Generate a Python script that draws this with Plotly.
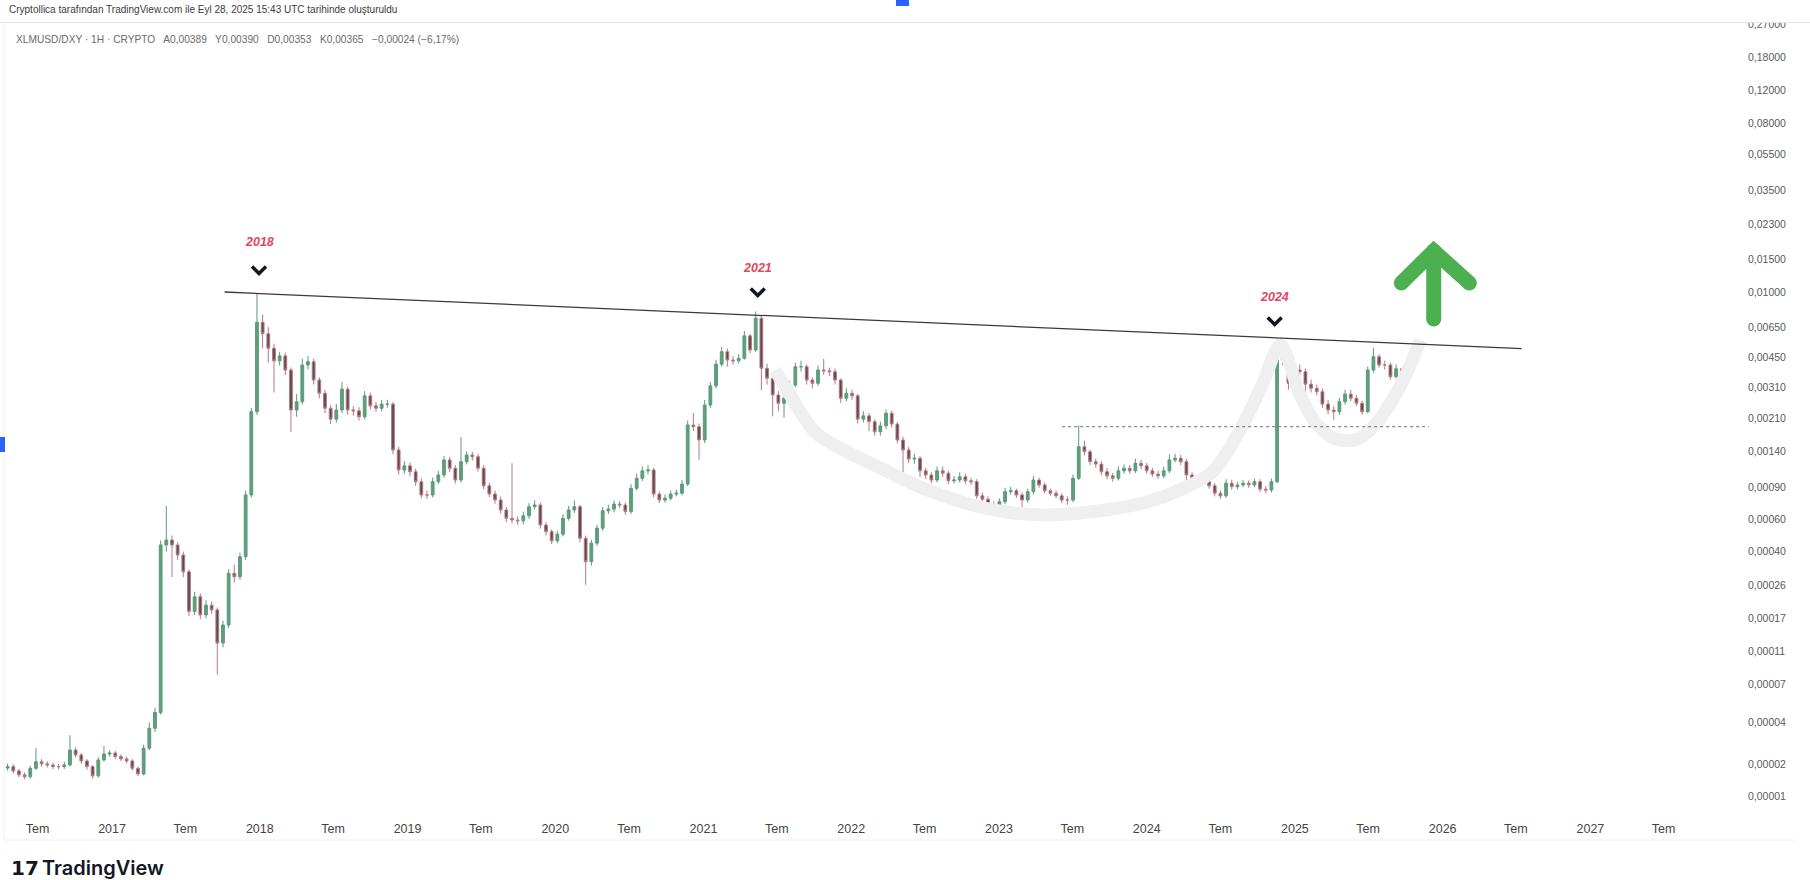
import math
import pandas as pd
import plotly.graph_objects as go

# ---------------------------------------------------------------- data
# XLMUSD/DXY, two-week candles
CANDLE_START = "2016-04-18"
CANDLE_FREQ = "14D"
FIRST_OPEN = 0.0000185

closes = [
    0.0000190, 0.0000175, 0.0000162, 0.0000156, 0.0000184, 0.0000208, 0.0000200, 0.0000196, 0.0000190, 0.0000190,
    0.0000196, 0.0000256, 0.0000235, 0.0000211, 0.0000190, 0.0000159, 0.0000215, 0.0000239, 0.0000243, 0.0000228,
    0.0000219, 0.0000211, 0.0000184, 0.0000165, 0.0000264, 0.0000365, 0.0000465, 0.000435, 0.000463, 0.000435,
    0.000383, 0.000310, 0.000186, 0.000225, 0.000178, 0.000202, 0.000190, 0.000123, 0.000156, 0.000304,
    0.000291, 0.000375, 0.000814, 0.002288, 0.006900, 0.006000, 0.005010, 0.004289, 0.004562, 0.003831,
    0.002337, 0.002589, 0.004075, 0.004244, 0.003386, 0.002874, 0.002388, 0.002087, 0.002337, 0.003024,
    0.002337, 0.002312, 0.002151, 0.002783, 0.002460, 0.002388, 0.002513, 0.002513, 0.001424, 0.001111,
    0.001169, 0.001087, 0.000960, 0.000814, 0.000814, 0.000960, 0.001044, 0.001258, 0.001135, 0.000981,
    0.001231, 0.001338, 0.001310, 0.001135, 0.000912, 0.000823, 0.000764, 0.000675, 0.000608, 0.000595,
    0.000589, 0.000627, 0.000703, 0.000718, 0.000559, 0.000514, 0.000458, 0.000498, 0.000608, 0.000675,
    0.000703, 0.000473, 0.000352, 0.000445, 0.000537, 0.000668, 0.000682, 0.000726, 0.000718, 0.000661,
    0.000885, 0.001002, 0.001099, 0.001111, 0.000823, 0.000764, 0.000781, 0.000823, 0.000832, 0.000932,
    0.001941, 0.001900, 0.001612, 0.002486, 0.003149, 0.004119, 0.004801, 0.004335, 0.004289, 0.004429,
    0.005839, 0.004904, 0.007256, 0.003914, 0.003459, 0.002813, 0.002540, 0.002702, 0.003183, 0.003989,
    0.003989, 0.003386, 0.003252, 0.003831, 0.003790, 0.003750, 0.003386, 0.002702, 0.002874, 0.002783,
    0.002087, 0.002174, 0.002021, 0.001785, 0.001920, 0.002245, 0.001962, 0.001612, 0.001424, 0.001272,
    0.001285, 0.001099, 0.001044, 0.000981, 0.001099, 0.001067, 0.000971, 0.000981, 0.001022, 0.000971,
    0.000960, 0.000805, 0.000772, 0.000726, 0.000682, 0.000748, 0.000848, 0.000857, 0.000814, 0.000764,
    0.000848, 0.000981, 0.000922, 0.000857, 0.000832, 0.000805, 0.000764, 0.000764, 0.001002, 0.001483,
    0.001394, 0.001231, 0.001195, 0.001087, 0.001033, 0.001002, 0.001099, 0.001135, 0.001099, 0.001208,
    0.001169, 0.001099, 0.001055, 0.001033, 0.001099, 0.001258, 0.001285, 0.001231, 0.001044, 0.001002,
    0.000971, 0.000971, 0.000912, 0.000832, 0.000805, 0.000942, 0.000902, 0.000922, 0.000942, 0.000922,
    0.000960, 0.000875, 0.000866, 0.000960, 0.004801, 0.004335, 0.003252, 0.003831, 0.003750, 0.003217,
    0.003057, 0.002929, 0.002513, 0.002337, 0.002288, 0.002589, 0.002843, 0.002702, 0.002540, 0.002288,
    0.003831, 0.004514, 0.004075, 0.004075, 0.003526, 0.003890, 0.003650,
]

highs = [
    0.0000201, 0.0000199, 0.0000182, 0.0000170, 0.0000193, 0.0000264, 0.0000218, 0.0000210, 0.0000205, 0.0000200,
    0.0000208, 0.0000327, 0.0000268, 0.0000243, 0.0000218, 0.0000195, 0.0000226, 0.0000275, 0.0000256, 0.0000252,
    0.0000238, 0.0000228, 0.0000218, 0.0000190, 0.0000280, 0.0000400, 0.0000500, 0.000460, 0.000710, 0.000490,
    0.000450, 0.000400, 0.000320, 0.000240, 0.000235, 0.000215, 0.000212, 0.000196, 0.000165, 0.000320,
    0.000340, 0.000395, 0.000860, 0.00240, 0.00990, 0.00760, 0.00650, 0.00530, 0.00480, 0.00475,
    0.00395, 0.00285, 0.00440, 0.00455, 0.00440, 0.00350, 0.00300, 0.00248, 0.00252, 0.00330,
    0.00312, 0.00245, 0.00242, 0.00295, 0.00290, 0.00258, 0.00265, 0.00265, 0.00258, 0.00148,
    0.00124, 0.00122, 0.00113, 0.00100, 0.000860, 0.00101, 0.00110, 0.00132, 0.00131, 0.00118,
    0.00167, 0.00140, 0.00139, 0.00136, 0.00118, 0.000950, 0.000860, 0.000800, 0.000700, 0.00121,
    0.000625, 0.000660, 0.000735, 0.000760, 0.000740, 0.000580, 0.000530, 0.000520, 0.000640, 0.000710,
    0.000760, 0.000720, 0.000490, 0.000465, 0.000560, 0.000700, 0.000720, 0.000760, 0.000755, 0.000740,
    0.000930, 0.00106, 0.00116, 0.00118, 0.00114, 0.000850, 0.000820, 0.000860, 0.000870, 0.000980,
    0.00205, 0.00225, 0.00198, 0.00265, 0.00330, 0.00435, 0.00510, 0.00500, 0.00455, 0.00465,
    0.00620, 0.00600, 0.00790, 0.00745, 0.00415, 0.00360, 0.00295, 0.00285, 0.00335, 0.00420,
    0.00430, 0.00410, 0.00350, 0.00405, 0.00440, 0.00395, 0.00390, 0.00345, 0.00305, 0.00300,
    0.00285, 0.00230, 0.00225, 0.00208, 0.00202, 0.00235, 0.00232, 0.00202, 0.00168, 0.00148,
    0.00136, 0.00132, 0.00114, 0.00108, 0.00116, 0.00116, 0.00110, 0.00103, 0.00108, 0.00106,
    0.00101, 0.000990, 0.000840, 0.000800, 0.000750, 0.000780, 0.000890, 0.000900, 0.000880, 0.000840,
    0.000880, 0.00103, 0.00101, 0.000950, 0.000880, 0.000860, 0.000830, 0.000800, 0.00105, 0.00193,
    0.00160, 0.00143, 0.00128, 0.00124, 0.00114, 0.00107, 0.00116, 0.00119, 0.00118, 0.00128,
    0.00126, 0.00121, 0.00114, 0.00110, 0.00116, 0.00135, 0.00136, 0.00134, 0.00128, 0.00108,
    0.00104, 0.00101, 0.00100, 0.000945, 0.000860, 0.000990, 0.000985, 0.000960, 0.000980, 0.000975,
    0.00100, 0.000990, 0.000910, 0.00100, 0.00560, 0.00545, 0.00450, 0.00420, 0.00410, 0.00390,
    0.00340, 0.00320, 0.00305, 0.00265, 0.00245, 0.00272, 0.00300, 0.00300, 0.00282, 0.00262,
    0.00400, 0.00505, 0.00465, 0.00430, 0.00420, 0.00410, 0.00390,
]

lows = [
    0.0000176, 0.0000166, 0.0000154, 0.0000148, 0.0000150, 0.0000178, 0.0000190, 0.0000187, 0.0000181, 0.0000180,
    0.0000182, 0.0000190, 0.0000225, 0.0000200, 0.0000180, 0.0000150, 0.0000153, 0.0000208, 0.0000228, 0.0000218,
    0.0000210, 0.0000202, 0.0000176, 0.0000158, 0.0000160, 0.0000255, 0.0000345, 0.0000450, 0.000400, 0.000290,
    0.000360, 0.000290, 0.000175, 0.000178, 0.000168, 0.000170, 0.000180, 0.0000800, 0.000116, 0.000150,
    0.000270, 0.000280, 0.000360, 0.000790, 0.00220, 0.00500, 0.00420, 0.00290, 0.00405, 0.00360,
    0.00178, 0.00215, 0.00250, 0.00385, 0.00320, 0.00270, 0.00225, 0.00196, 0.00200, 0.00225,
    0.00220, 0.00218, 0.00205, 0.00208, 0.00235, 0.00228, 0.00230, 0.00240, 0.00135, 0.00105,
    0.00106, 0.00103, 0.000910, 0.000780, 0.000775, 0.000790, 0.000930, 0.00101, 0.00108, 0.000940,
    0.000950, 0.00119, 0.00125, 0.00109, 0.000870, 0.000790, 0.000730, 0.000645, 0.000580, 0.000570,
    0.000560, 0.000565, 0.000605, 0.000680, 0.000535, 0.000490, 0.000440, 0.000445, 0.000485, 0.000590,
    0.000650, 0.000450, 0.000262, 0.000335, 0.000430, 0.000520, 0.000640, 0.000655, 0.000690, 0.000635,
    0.000640, 0.000860, 0.000970, 0.00105, 0.000790, 0.000735, 0.000740, 0.000760, 0.000800, 0.000810,
    0.000910, 0.00180, 0.00126, 0.00155, 0.00240, 0.00305, 0.00400, 0.00400, 0.00410, 0.00415,
    0.00435, 0.00470, 0.00480, 0.00299, 0.00320, 0.00216, 0.00230, 0.00213, 0.00262, 0.00310,
    0.00375, 0.00320, 0.00305, 0.00315, 0.00360, 0.00355, 0.00320, 0.00255, 0.00260, 0.00265,
    0.00198, 0.00200, 0.00180, 0.00170, 0.00170, 0.00185, 0.00188, 0.00155, 0.000980, 0.00121,
    0.00120, 0.00102, 0.000995, 0.000940, 0.000950, 0.00102, 0.000930, 0.000940, 0.000950, 0.000935,
    0.000920, 0.000775, 0.000745, 0.000660, 0.000655, 0.000660, 0.000725, 0.000820, 0.000785, 0.000700,
    0.000740, 0.000820, 0.000890, 0.000830, 0.000805, 0.000780, 0.000735, 0.000720, 0.000745, 0.000980,
    0.00133, 0.00118, 0.00114, 0.00104, 0.000990, 0.000960, 0.000975, 0.00106, 0.00106, 0.00107,
    0.00112, 0.00106, 0.00102, 0.000995, 0.00100, 0.00107, 0.00122, 0.00118, 0.000870, 0.000960,
    0.000935, 0.000930, 0.000880, 0.000800, 0.000775, 0.000785, 0.000870, 0.000875, 0.000895, 0.000890,
    0.000895, 0.000845, 0.000830, 0.000840, 0.000940, 0.00405, 0.00300, 0.00310, 0.00355, 0.00234,
    0.00290, 0.00280, 0.00240, 0.00222, 0.00206, 0.00220, 0.00250, 0.00260, 0.00245, 0.00220,
    0.00225, 0.00370, 0.00395, 0.00385, 0.00340, 0.00345, 0.00353,
]

# price-scale ticks (TradingView log scale)
y_tick_values = [0.27, 0.18, 0.12, 0.08, 0.055, 0.035, 0.023, 0.015, 0.01, 0.0065, 0.0045, 0.0031,
                 0.0021, 0.0014, 0.0009, 0.0006, 0.0004, 0.00026, 0.00017, 0.00011, 0.00007,
                 0.00004, 0.00002, 0.00001]
y_tick_labels = ["0,27000", "0,18000", "0,12000", "0,08000", "0,05500", "0,03500", "0,02300",
                 "0,01500", "0,01000", "0,00650", "0,00450", "0,00310", "0,00210", "0,00140",
                 "0,00090", "0,00060", "0,00040", "0,00026", "0,00017", "0,00011", "0,00007",
                 "0,00004", "0,00002", "0,00001"]

# time-scale ticks
x_tick_dates = ["2016-07-01", "2017-01-01", "2017-07-01", "2018-01-01", "2018-07-01", "2019-01-01",
                "2019-07-01", "2020-01-01", "2020-07-01", "2021-01-01", "2021-07-01", "2022-01-01",
                "2022-07-01", "2023-01-01", "2023-07-01", "2024-01-01", "2024-07-01", "2025-01-01",
                "2025-07-01", "2026-01-01", "2026-07-01", "2027-01-01", "2027-07-01"]
x_tick_labels = ["Tem", "2017", "Tem", "2018", "Tem", "2019", "Tem", "2020", "Tem", "2021", "Tem",
                 "2022", "Tem", "2023", "Tem", "2024", "Tem", "2025", "Tem", "2026", "Tem", "2027", "Tem"]

# drawings
resistance_dates = ["2017-10-06", "2026-07-15"]
resistance_values = [0.01003, 0.00499]
support_dates = ["2023-06-06", "2025-11-28"]
support_values = [0.00190, 0.00190]
cup_dates = ["2021-06-27", "2021-08-03", "2021-10-03", "2021-12-22", "2022-03-14", "2022-06-03",
             "2022-08-26", "2022-11-15", "2023-02-05", "2023-04-30", "2023-07-20", "2023-10-09",
             "2024-01-01", "2024-03-23", "2024-06-11", "2024-08-19", "2024-10-12", "2024-11-26",
             "2025-01-14", "2025-02-20", "2025-04-06", "2025-05-30", "2025-07-18", "2025-09-06",
             "2025-10-13", "2025-11-07"]
cup_values = [0.00383, 0.00281, 0.00178, 0.00139, 0.00114, 0.000933, 0.000793, 0.000700, 0.000650,
              0.000634, 0.000650, 0.000683, 0.000745, 0.000866, 0.001083, 0.001824, 0.003182, 0.005217,
              0.00281, 0.002013, 0.001652, 0.001612, 0.001941, 0.00281, 0.004076, 0.005549]
peak_dates = ["2017-12-30", "2021-05-15", "2024-11-12"]
peak_labels = ["2018", "2021", "2024"]
chevron_values = [0.01316, 0.01003, 0.00702]
peak_label_values = [0.01858, 0.01349, 0.00943]
arrow_date = "2025-12-10"
arrow_tip_value = 0.01663
arrow_base_value = 0.00719
arrow_wing_dates = ["2025-09-21", "2026-03-08"]
arrow_wing_value = 0.01121

header_text = "Cryptollica tarafından TradingView.com ile Eyl 28, 2025 15:43 UTC tarihinde oluşturuldu"
legend_text = ("XLMUSD/DXY · 1H · CRYPTO\u00a0\u00a0 A0,00389\u00a0\u00a0 Y0,00390\u00a0\u00a0 "
               "D0,00353\u00a0\u00a0 K0,00365\u00a0\u00a0 −0,00024 (−6,17%)")

# ---------------------------------------------------------------- scale helpers
# TradingView's log price scale works on log10(price + offset)
LOG_OFFSET = 0.00001


def to_axis(v):
    return v + LOG_OFFSET


W, H = 1810, 880
ML, MR, MT, MB = 6, 84, 22, 68
PW, PH = W - ML - MR, H - MT - MB


def px_x(px):
    return (px - ML) / PW


def px_y(py):
    return (H - MB - py) / PH


dates = pd.date_range(CANDLE_START, periods=len(closes), freq=CANDLE_FREQ)
opens = [FIRST_OPEN] + closes[:-1]

fig = go.Figure()

# cup drawing (below candles)
fig.add_trace(go.Scatter(
    x=cup_dates, y=[to_axis(v) for v in cup_values], mode="lines",
    line=dict(color="#efefef", width=13, shape="spline", smoothing=0.8),
    hoverinfo="skip", showlegend=False))

fig.add_trace(go.Candlestick(
    x=dates,
    open=[to_axis(v) for v in opens],
    high=[to_axis(v) for v in highs],
    low=[to_axis(v) for v in lows],
    close=[to_axis(v) for v in closes],
    increasing=dict(line=dict(color="#5a9a7a", width=1), fillcolor="#5f9f7e"),
    decreasing=dict(line=dict(color="#b47a82", width=1), fillcolor="#5f4a4d"),
    whiskerwidth=0, hoverinfo="skip", showlegend=False))

# resistance trend line
fig.add_trace(go.Scatter(
    x=resistance_dates, y=[to_axis(v) for v in resistance_values], mode="lines",
    line=dict(color="#3a3a3a", width=1.3), hoverinfo="skip", showlegend=False))

# dotted horizontal level
fig.add_trace(go.Scatter(
    x=support_dates, y=[to_axis(v) for v in support_values], mode="lines",
    line=dict(color="#8a8a8a", width=1.2, dash="dot"), hoverinfo="skip", showlegend=False))

# green arrow
GREEN = "#4caf50"
fig.add_trace(go.Scatter(
    x=[arrow_date, arrow_date], y=[to_axis(arrow_base_value), to_axis(arrow_tip_value)],
    mode="lines+markers", line=dict(color=GREEN, width=15),
    marker=dict(color=GREEN, size=15), hoverinfo="skip", showlegend=False))
fig.add_trace(go.Scatter(
    x=[arrow_wing_dates[0], arrow_date, arrow_wing_dates[1]],
    y=[to_axis(arrow_wing_value), to_axis(arrow_tip_value), to_axis(arrow_wing_value)],
    mode="lines+markers", line=dict(color=GREEN, width=15),
    marker=dict(color=GREEN, size=15), hoverinfo="skip", showlegend=False))

shapes = []
annotations = []

# chevrons + year labels at the peaks
for d, cv, lv, lab in zip(peak_dates, chevron_values, peak_label_values, peak_labels):
    shapes.append(dict(type="path", xref="x", yref="y", xsizemode="pixel", ysizemode="pixel",
                       xanchor=d, yanchor=to_axis(cv), path="M-7,3.5 L0,-3.5 L7,3.5",
                       line=dict(color="#131722", width=3.5)))
    annotations.append(dict(x=d, y=math.log10(to_axis(lv)), xref="x", yref="y", text=f"<b><i>{lab}</i></b>",
                            showarrow=False, font=dict(family="Liberation Sans, Arial", size=12.5,
                                                       color="#e0475e")))

# header bar (covers the top of the price scale) / frame
shapes.append(dict(type="rect", xref="paper", yref="paper", x0=px_x(0), x1=px_x(W),
                   y0=px_y(0), y1=px_y(22.5), line=dict(width=0), fillcolor="white", layer="above"))
shapes.append(dict(type="line", xref="paper", yref="paper", x0=px_x(0), x1=px_x(W),
                   y0=px_y(22.5), y1=px_y(22.5), line=dict(color="#e3e5ea", width=1)))
shapes.append(dict(type="line", xref="paper", yref="paper", x0=px_x(4), x1=px_x(4),
                   y0=px_y(23), y1=px_y(840), line=dict(color="#eef0f3", width=1)))
shapes.append(dict(type="line", xref="paper", yref="paper", x0=px_x(4), x1=px_x(1795),
                   y0=px_y(840), y1=px_y(840), line=dict(color="#eef0f3", width=1)))
# small blue selection markers
shapes.append(dict(type="rect", xref="paper", yref="paper", x0=px_x(896), x1=px_x(909),
                   y0=px_y(0), y1=px_y(6), line=dict(width=0), fillcolor="#2962ff"))
shapes.append(dict(type="rect", xref="paper", yref="paper", x0=px_x(0), x1=px_x(5),
                   y0=px_y(437), y1=px_y(452), line=dict(width=0), fillcolor="#2962ff"))

annotations.append(dict(x=px_x(7), y=px_y(10), xref="paper", yref="paper", xanchor="left",
                        yanchor="middle", text=header_text, showarrow=False,
                        font=dict(family="Liberation Sans Narrow, Liberation Sans, Arial", size=10,
                                  color="#3c3c3c")))
annotations.append(dict(x=px_x(14), y=px_y(39), xref="paper", yref="paper", xanchor="left",
                        yanchor="middle", text=legend_text, showarrow=False,
                        font=dict(family="Liberation Sans Narrow, Liberation Sans, Arial", size=10.2,
                                  color="#6a6a6a")))
annotations.append(dict(x=px_x(9), y=px_y(868), xref="paper", yref="paper", xanchor="left",
                        yanchor="middle", text="<b>17</b>", showarrow=False,
                        font=dict(family="DejaVu Sans", size=20, color="#131722")))
annotations.append(dict(x=px_x(40), y=px_y(868), xref="paper", yref="paper", xanchor="left",
                        yanchor="middle", text="TradingView", showarrow=False,
                        font=dict(family="Inter, Liberation Sans", size=20, color="#131722",
                                  weight=600)))

y_lo = math.log10(to_axis(0.00000658))
y_hi = math.log10(to_axis(0.2795))

fig.update_layout(
    width=W, height=H, margin=dict(l=ML, r=MR, t=MT, b=MB, pad=0),
    paper_bgcolor="white", plot_bgcolor="white",
    shapes=shapes, annotations=annotations, showlegend=False,
    xaxis=dict(type="date", range=["2016-04-14", "2027-12-02"], showgrid=False, zeroline=False,
               showline=False, tickmode="array", tickvals=x_tick_dates, ticktext=x_tick_labels,
               ticks="", ticklabelstandoff=7, rangeslider=dict(visible=False),
               tickfont=dict(family="Liberation Sans Narrow, Liberation Sans, Arial", size=12.5,
                             color="#444444")),
    yaxis=dict(type="log", side="right", range=[y_lo, y_hi], showgrid=False, zeroline=False,
               showline=False, tickmode="array", tickvals=[to_axis(v) for v in y_tick_values],
               ticktext=y_tick_labels, ticks="", ticklabelstandoff=21,
               tickfont=dict(family="Liberation Sans, Arial", size=10.5, color="#5a5a5a")),
)

fig.write_html("out.html", config={"displayModeBar": False},
               post_script="document.body.style.margin='0';")
